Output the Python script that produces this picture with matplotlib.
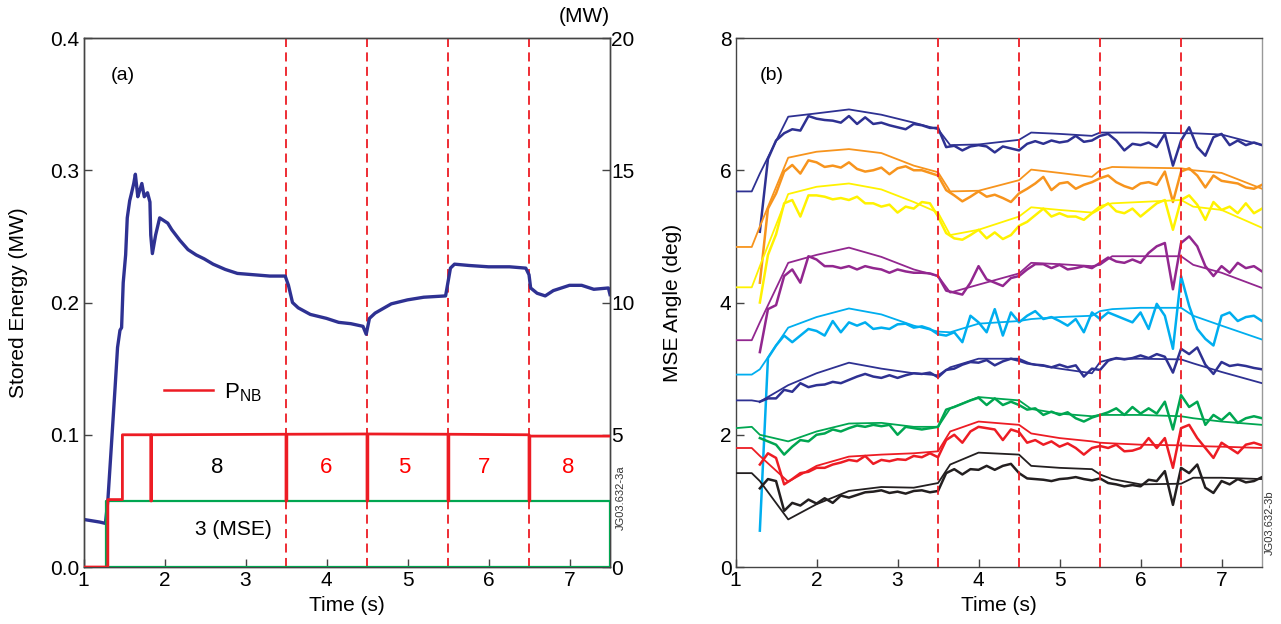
import matplotlib
matplotlib.use("Agg")
import matplotlib.pyplot as plt
from matplotlib.ticker import FormatStrFormatter
from matplotlib.lines import Line2D
import numpy as np

plt.rcParams['font.family'] = ['Liberation Sans', 'DejaVu Sans']
plt.rcParams['mathtext.fontset'] = 'custom'
plt.rcParams['mathtext.rm'] = 'Liberation Sans'

#-------------------------
# (a) stored energy and beam power
se_t = [1.0, 1.1, 1.2, 1.27, 1.3, 1.34, 1.39, 1.42, 1.45, 1.47, 1.49, 1.52, 1.54, 1.57,
        1.59, 1.62, 1.64, 1.67, 1.69, 1.72, 1.75, 1.79, 1.82, 1.83, 1.85, 1.89, 1.94,
        1.99, 2.04, 2.09, 2.19, 2.29, 2.39, 2.49, 2.6, 2.75, 2.9, 3.1, 3.3, 3.49, 3.53,
        3.58, 3.65, 3.8, 4.0, 4.15, 4.3, 4.45, 4.49, 4.53, 4.6, 4.8, 5.0, 5.2, 5.47,
        5.53, 5.58, 5.76, 6.0, 6.26, 6.46, 6.5, 6.52, 6.6, 6.7, 6.8, 7.0, 7.15, 7.3,
        7.48, 7.5]
se_v = [0.036, 0.035, 0.034, 0.033, 0.05, 0.088, 0.136, 0.166, 0.179, 0.181, 0.215,
        0.236, 0.264, 0.277, 0.282, 0.29, 0.297, 0.28, 0.284, 0.29, 0.28, 0.283, 0.276,
        0.251, 0.237, 0.251, 0.264, 0.262, 0.26, 0.255, 0.247, 0.24, 0.236, 0.233,
        0.229, 0.225, 0.222, 0.221, 0.220, 0.220, 0.213, 0.200, 0.196, 0.191, 0.188,
        0.185, 0.184, 0.182, 0.176, 0.188, 0.192, 0.199, 0.202, 0.204, 0.205, 0.226,
        0.229, 0.228, 0.227, 0.227, 0.226, 0.221, 0.211, 0.207, 0.205, 0.209, 0.213,
        0.213, 0.21, 0.211, 0.206]

# NB power (MW)
pnb_t = [1.0, 1.3, 1.3, 1.48, 1.48, 1.83, 1.83, 1.84, 1.84, 3.5, 3.5, 3.51, 3.51,
         4.5, 4.5, 4.51, 4.51, 5.5, 5.5, 5.51, 5.51, 6.5, 6.5, 6.51, 6.51, 7.5]
pnb_v = [0, 0, 2.55, 2.55, 5.0, 5.0, 2.5, 2.5, 5.0, 5.02, 2.5, 2.5, 5.02, 5.03, 2.5,
         2.5, 5.03, 5.02, 2.5, 2.5, 5.02, 5.0, 2.5, 2.5, 4.95, 4.95]
mse_t = [1.28, 1.28, 7.5, 7.5, 1.28]
mse_v = [0, 2.5, 2.5, 0, 0]

switch_times = [3.5, 4.5, 5.5, 6.5]
beam_labels = ['8', '6', '5', '7', '8']
beam_label_t = [2.65, 3.99, 4.96, 5.95, 6.98]
beam_label_colors = ['black', 'red', 'red', 'red', 'red']

#-------------------------
# (b) MSE angles
t_meas = np.round(np.arange(1.3, 7.55, 0.1), 2)
fit_t = [1.0, 1.2, 1.3, 1.65, 2.0, 2.4, 2.8, 3.2, 3.5, 3.65, 4.0, 4.5, 4.65, 5.0,
         5.4, 5.5, 5.65, 6.0, 6.5, 6.65, 7.0, 7.5]

ch_colors = ['#2e3192', '#f7941d', '#fff200', '#92278f', '#00aeef',
             '#2e3192', '#00a651', '#ed1c24', '#231f20']

meas_navy1 = [5.07, 6.17, 6.45, 6.56, 6.62, 6.6, 6.82, 6.78, 6.76, 6.75,
              6.72, 6.82, 6.7, 6.8, 6.7, 6.72, 6.68, 6.65, 6.62, 6.7,
              6.68, 6.64, 6.64, 6.35, 6.37, 6.3, 6.36, 6.38, 6.36, 6.27,
              6.36, 6.33, 6.3, 6.4, 6.44, 6.4, 6.45, 6.42, 6.44, 6.52,
              6.43, 6.45, 6.52, 6.55, 6.45, 6.3, 6.4, 6.38, 6.42, 6.35,
              6.55, 6.07, 6.45, 6.65, 6.35, 6.22, 6.5, 6.55, 6.38, 6.45,
              6.38, 6.42, 6.38]
meas_orange = [4.3, 5.42, 5.65, 5.98, 6.08, 5.95, 6.15, 6.12, 6.05, 6.07,
               6.04, 6.12, 6.02, 5.98, 6.0, 6.04, 5.94, 6.03, 6.06, 6.0,
               6.0, 5.96, 5.92, 5.7, 5.62, 5.53, 5.6, 5.68, 5.6, 5.63,
               5.58, 5.52, 5.65, 5.72, 5.8, 5.9, 5.7, 5.8, 5.82, 5.72,
               5.78, 5.82, 5.88, 5.92, 5.82, 5.76, 5.72, 5.8, 5.82, 5.78,
               5.98, 5.52, 5.98, 6.03, 5.92, 5.74, 5.92, 5.84, 5.82, 5.8,
               5.74, 5.72, 5.78]
meas_yellow = [4.0, 4.72, 5.03, 5.5, 5.55, 5.3, 5.62, 5.62, 5.6, 5.56,
               5.58, 5.55, 5.6, 5.5, 5.5, 5.45, 5.48, 5.36, 5.45, 5.42,
               5.52, 5.5, 5.3, 5.05, 4.97, 4.95, 5.02, 5.1, 4.97, 5.06,
               4.96, 5.02, 5.16, 5.22, 5.32, 5.42, 5.3, 5.35, 5.3, 5.3,
               5.25, 5.35, 5.42, 5.5, 5.38, 5.35, 5.42, 5.3, 5.4, 5.5,
               5.55, 5.1, 5.55, 5.62, 5.48, 5.25, 5.52, 5.4, 5.45, 5.35,
               5.5, 5.35, 5.42]
meas_purple = [3.25, 3.9, 3.96, 4.4, 4.5, 4.3, 4.7, 4.65, 4.55, 4.55,
               4.52, 4.55, 4.5, 4.55, 4.52, 4.5, 4.45, 4.5, 4.47, 4.45,
               4.45, 4.44, 4.4, 4.18, 4.15, 4.12, 4.3, 4.55, 4.35, 4.3,
               4.25, 4.37, 4.4, 4.5, 4.58, 4.58, 4.52, 4.57, 4.5, 4.52,
               4.55, 4.52, 4.6, 4.68, 4.62, 4.6, 4.65, 4.6, 4.75, 4.85,
               4.9, 4.2, 4.9, 5.0, 4.85, 4.55, 4.4, 4.55, 4.45, 4.6,
               4.52, 4.55, 4.47]
meas_cyan = [0.55, 3.16, 3.35, 3.5, 3.4, 3.5, 3.6, 3.57, 3.5, 3.72,
             3.55, 3.7, 3.65, 3.7, 3.6, 3.62, 3.6, 3.67, 3.68, 3.62,
             3.64, 3.6, 3.52, 3.5, 3.55, 3.4, 3.8, 3.7, 3.55, 3.9,
             3.5, 3.85, 3.7, 3.8, 3.87, 3.75, 3.78, 3.72, 3.65, 3.75,
             3.55, 3.85, 3.75, 3.85, 3.8, 3.75, 3.7, 3.85, 3.6, 3.98,
             3.8, 3.3, 4.4, 3.95, 3.6, 3.45, 3.35, 3.8, 3.85, 3.72,
             3.78, 3.8, 3.72]
meas_navy2 = [2.5, 2.55, 2.55, 2.68, 2.65, 2.78, 2.72, 2.75, 2.76, 2.8,
              2.78, 2.83, 2.88, 2.92, 2.88, 2.86, 2.9, 2.86, 2.9, 2.93,
              2.92, 2.94, 2.87, 2.98, 3.0, 3.06, 3.1, 3.09, 3.13, 3.05,
              3.11, 3.15, 3.12, 3.08, 3.06, 3.05, 3.02, 3.06, 3.02, 3.05,
              2.88, 3.0, 2.98, 3.12, 3.16, 3.14, 3.16, 3.2, 3.16, 3.22,
              3.18, 2.94, 3.3, 3.22, 3.32, 3.06, 2.92, 3.1, 3.04, 3.06,
              3.04, 3.01, 2.99]
meas_green = [1.95, 1.9, 1.85, 1.7, 1.82, 1.92, 1.9, 2.0, 2.02, 2.08,
              2.05, 2.1, 2.14, 2.12, 2.15, 2.13, 2.15, 2.0, 2.12, 2.1,
              2.08, 2.1, 2.12, 2.38, 2.42, 2.47, 2.52, 2.56, 2.45, 2.55,
              2.45, 2.5, 2.45, 2.38, 2.4, 2.3, 2.35, 2.3, 2.34, 2.25,
              2.2, 2.26, 2.3, 2.34, 2.4, 2.3, 2.42, 2.32, 2.4, 2.32,
              2.5, 2.08, 2.6, 2.42, 2.5, 2.15, 2.3, 2.22, 2.33, 2.18,
              2.25, 2.28, 2.25]
meas_red = [1.55, 1.72, 1.65, 1.25, 1.33, 1.42, 1.44, 1.5, 1.5, 1.55,
            1.58, 1.62, 1.6, 1.68, 1.56, 1.62, 1.6, 1.63, 1.62, 1.68,
            1.66, 1.72, 1.66, 1.92, 2.0, 1.88, 2.05, 2.12, 2.1, 2.08,
            1.92, 2.08, 2.04, 1.88, 1.92, 1.85, 1.9, 1.82, 1.87, 1.8,
            1.7, 1.8, 1.83, 1.8, 1.85, 1.75, 1.76, 1.8, 1.95, 1.8,
            1.95, 1.5, 2.1, 2.15, 1.95, 1.8, 1.65, 1.88, 1.8, 1.72,
            1.85, 1.88, 1.84]
meas_black = [1.19, 1.33, 1.3, 0.85, 0.97, 0.93, 1.02, 0.96, 1.04, 0.97,
              1.08, 1.05, 1.09, 1.13, 1.14, 1.16, 1.12, 1.14, 1.11, 1.15,
              1.16, 1.13, 1.15, 1.42, 1.48, 1.4, 1.48, 1.47, 1.53, 1.47,
              1.53, 1.56, 1.42, 1.34, 1.33, 1.32, 1.3, 1.33, 1.34, 1.36,
              1.33, 1.31, 1.34, 1.27, 1.25, 1.22, 1.24, 1.22, 1.32, 1.3,
              1.45, 0.94, 1.5, 1.42, 1.55, 1.2, 1.12, 1.3, 1.25, 1.33,
              1.28, 1.3, 1.36]

fit_navy1 = [5.68, 5.68, 5.95, 6.81, 6.86, 6.92, 6.84, 6.72, 6.62, 6.38, 6.39, 6.46,
             6.57, 6.55, 6.52, 6.57, 6.57, 6.57, 6.56, 6.56, 6.54, 6.38]
fit_orange = [4.84, 4.84, 5.15, 6.19, 6.28, 6.32, 6.26, 6.07, 5.97, 5.68, 5.69, 5.85,
              6.01, 5.96, 5.9, 6.0, 6.05, 6.04, 6.03, 6.0, 5.96, 5.72]
fit_yellow = [4.23, 4.23, 4.55, 5.64, 5.75, 5.8, 5.71, 5.52, 5.36, 5.02, 5.1, 5.3,
              5.44, 5.4, 5.36, 5.46, 5.5, 5.52, 5.55, 5.45, 5.4, 5.13]
fit_purple = [3.43, 3.43, 3.7, 4.6, 4.72, 4.83, 4.69, 4.5, 4.4, 4.15, 4.27, 4.44,
              4.6, 4.58, 4.55, 4.57, 4.7, 4.7, 4.7, 4.57, 4.45, 4.22]
fit_cyan = [2.91, 2.91, 2.99, 3.62, 3.78, 3.91, 3.82, 3.65, 3.56, 3.55, 3.68, 3.72,
            3.75, 3.78, 3.8, 3.87, 3.9, 3.92, 3.92, 3.8, 3.65, 3.44]
fit_navy2 = [2.52, 2.52, 2.5, 2.75, 2.93, 3.09, 3.0, 2.93, 2.9, 3.02, 3.15, 3.15,
             3.07, 3.0, 2.93, 3.1, 3.15, 3.15, 3.14, 3.08, 2.95, 2.78]
fit_green = [2.1, 2.12, 2.0, 1.9, 2.05, 2.17, 2.18, 2.12, 2.12, 2.4, 2.57, 2.52,
             2.39, 2.32, 2.28, 2.3, 2.3, 2.3, 2.28, 2.25, 2.2, 2.15]
fit_red = [1.8, 1.8, 1.68, 1.29, 1.53, 1.67, 1.7, 1.72, 1.75, 2.05, 2.2, 2.15,
           2.02, 1.95, 1.9, 1.88, 1.87, 1.85, 1.84, 1.83, 1.82, 1.8]
fit_black = [1.42, 1.42, 1.3, 0.72, 0.95, 1.15, 1.21, 1.2, 1.27, 1.55, 1.73, 1.7,
             1.53, 1.5, 1.48, 1.4, 1.33, 1.25, 1.26, 1.35, 1.35, 1.33]

meas_all = [meas_navy1, meas_orange, meas_yellow, meas_purple, meas_cyan,
            meas_navy2, meas_green, meas_red, meas_black]
fit_all = [fit_navy1, fit_orange, fit_yellow, fit_purple, fit_cyan,
           fit_navy2, fit_green, fit_red, fit_black]

#-------------------------
RED = '#ed1c24'
BLUE = '#2e3192'
GREEN = '#00a651'
SPINE = '#444444'
FS = 15


def style_axes(ax):
    for s in ax.spines.values():
        s.set_color(SPINE)
        s.set_linewidth(1.0)
    ax.tick_params(direction='in', length=6, width=1, color=SPINE, labelsize=FS, pad=3)


fig = plt.figure(figsize=(12.81, 6.24), dpi=100)

# ---- panel (a)
ax1 = fig.add_axes([0.0652, 0.0913, 0.4110, 0.8478])
ax1.plot(se_t, se_v, color=BLUE, lw=2.4, zorder=3)
for ts in switch_times:
    ax1.axvline(ts, color=RED, lw=1.3, dashes=(5, 3), zorder=2)
ax1.set_xlim(1, 7.5)
ax1.set_ylim(0, 0.4)
ax1.set_xticks(np.arange(1, 8))
ax1.set_yticks([0.0, 0.1, 0.2, 0.3, 0.4])
ax1.yaxis.set_major_formatter(FormatStrFormatter('%.1f'))
ax1.set_xlabel('Time (s)', fontsize=FS, labelpad=4)
ax1.set_ylabel('Stored Energy (MW)', fontsize=FS, labelpad=16)
style_axes(ax1)
ax1.text(1.48, 0.372, '(a)', fontsize=FS - 1, ha='center', va='center')

ax2 = ax1.twinx()
ax2.plot(mse_t, mse_v, color=GREEN, lw=1.6, zorder=3)
ax2.plot(pnb_t, pnb_v, color=RED, lw=2.0, zorder=4)
ax2.set_ylim(0, 20)
ax2.set_yticks([0, 5, 10, 15, 20])
style_axes(ax2)
ax2.tick_params(axis='y', pad=1)
ax2.text(1.0, 1.04, '(MW)', transform=ax2.transAxes, ha='right', va='center', fontsize=FS)

for lab, tx, c in zip(beam_labels, beam_label_t, beam_label_colors):
    ax2.text(tx, 3.75, lab, color=c, fontsize=16, ha='center', va='center')
ax2.text(2.85, 1.4, '3 (MSE)', color='black', fontsize=FS, ha='center', va='center')

pnb_handle = Line2D([], [], color=RED, lw=1.8)
ax1.legend([pnb_handle], [r'P$_{\rm NB}$'], loc='center left', frameon=False,
           bbox_to_anchor=(0.115, 0.33), fontsize=FS + 1, handlelength=2.2,
           handletextpad=0.5)

fig.text(0.4845, 0.203, 'JG03.632-3a', rotation=90, fontsize=8, ha='center',
         va='center', color='#333333')

# ---- panel (b)
ax3 = fig.add_axes([0.5742, 0.0913, 0.4110, 0.8478])
for m, f, c in zip(meas_all, fit_all, ch_colors):
    ax3.plot(fit_t, f, color=c, lw=1.3, zorder=3)
    ax3.plot(t_meas, m, color=c, lw=1.8, zorder=3)
for ts in switch_times:
    ax3.axvline(ts, color=RED, lw=1.3, dashes=(5, 3), zorder=4)
ax3.set_xlim(1, 7.5)
ax3.set_ylim(0, 8)
ax3.set_xticks(np.arange(1, 8))
ax3.set_yticks([0, 2, 4, 6, 8])
ax3.set_xlabel('Time (s)', fontsize=FS, labelpad=4)
ax3.set_ylabel('MSE Angle (deg)', fontsize=FS, labelpad=27)
style_axes(ax3)
ax3.spines['right'].set_color('#999999')
ax3.text(1.45, 7.44, '(b)', fontsize=FS - 1, ha='center', va='center')

fig.text(0.9915, 0.163, 'JG03.632-3b', rotation=90, fontsize=8, ha='center',
         va='center', color='#333333')

fig.savefig('out.png', dpi=100)
